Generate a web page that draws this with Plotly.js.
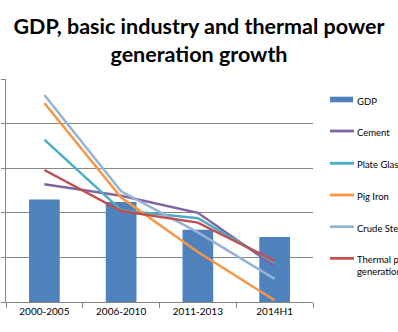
<!DOCTYPE html>
<html>
<head>
<meta charset="utf-8">
<script src="https://cdn.plot.ly/plotly-3.0.1.min.js"></script>
<style>html,body{margin:0;padding:0;background:#fff;}#chart{width:398px;height:332px;}</style>
</head>
<body>
<div id="chart"></div>
<script>
var categories = ["2000-2005", "2006-2010", "2011-2013", "2014H1"];
var gdp = [11.5, 11.2, 8.1, 7.3];
var cement = [13.2, 11.9, 10.0, 4.0];
var plateGlass = [18.2, 10.3, 9.4, 4.4];
var pigIron = [22.3, 11.7, 5.6, 0.2];
var crudeSteel = [23.2, 12.4, 7.8, 2.6];
var thermal = [14.8, 10.2, 8.9, 4.6];
var seriesNames = ["GDP", "Cement", "Plate Glass", "Pig Iron", "Crude Steel", "Thermal power<br>generation"];
var seriesColors = ["#4F81BD", "#8064A2", "#4BACC6", "#F79646", "#95B3D7", "#C0504D"];

var font = "Lato, 'Open Sans', sans-serif";
var W = 398, H = 332, mL = 6, mR = 85, mT = 79, mB = 30;
var pw = W - mL - mR, ph = H - mT - mB;
function px2x(p) { return (p - mL) / pw; }
function py2y(p) { return (H - mB - p) / ph; }

var seriesValues = [gdp, cement, plateGlass, pigIron, crudeSteel, thermal];
var data = seriesValues.map(function (v, i) {
  if (i === 0) return {type: "bar", name: seriesNames[i], x: categories, y: v, marker: {color: seriesColors[i]}};
  return {type: "scatter", mode: "lines", name: seriesNames[i], x: categories, y: v,
    line: {color: seriesColors[i], width: 2.5}};
});

// manual legend (reference legend is cut off at the right edge)
var legendRows = [99.5, 131, 163.3, 195, 226.7, 258.3];
var shapes = [], annotations = [];
legendRows.forEach(function (r, i) {
  if (i === 0) {
    shapes.push({type: "rect", xref: "paper", yref: "paper", x0: px2x(330), x1: px2x(353),
      y0: py2y(r - 2.8), y1: py2y(r + 2.8), fillcolor: seriesColors[i], line: {width: 0}});
  } else {
    shapes.push({type: "line", xref: "paper", yref: "paper", x0: px2x(330), x1: px2x(354),
      y0: py2y(r), y1: py2y(r), line: {color: seriesColors[i], width: 2.8}});
  }
  annotations.push({xref: "paper", yref: "paper", x: px2x(355), y: py2y(r - 6),
    xanchor: "left", yanchor: "top", align: "left", showarrow: false, text: seriesNames[i],
    font: {family: font, size: 9.5, color: "#000"}});
});

var layout = {
  width: W, height: H,
  margin: {l: mL, r: mR, t: mT, b: mB},
  paper_bgcolor: "#fff", plot_bgcolor: "#fff",
  font: {family: font, size: 10, color: "#000"},
  title: {text: "GDP, basic industry and thermal power<br>generation growth",
    font: {family: font, size: 21.5, color: "#000", weight: "bold"},
    x: 0.5, xanchor: "center", y: 1 - 34 / H, yanchor: "middle"},
  bargap: 0.6,
  showlegend: false,
  shapes: shapes,
  annotations: annotations,
  xaxis: {type: "category", showline: true, linecolor: "#868686", linewidth: 1,
    ticks: "outside", tickson: "boundaries", ticklen: 5, tickcolor: "#868686",
    tickfont: {family: font, size: 10, color: "#000"}, showgrid: false, zeroline: false},
  yaxis: {range: [0, 25], dtick: 5, showticklabels: false, showline: true, linecolor: "#868686",
    ticks: "outside", ticklen: 4, tickcolor: "#868686",
    showgrid: true, gridcolor: "#868686", gridwidth: 1, zeroline: false}
};
Plotly.newPlot("chart", data, layout, {displayModeBar: false, staticPlot: true});
</script>
</body>
</html>
